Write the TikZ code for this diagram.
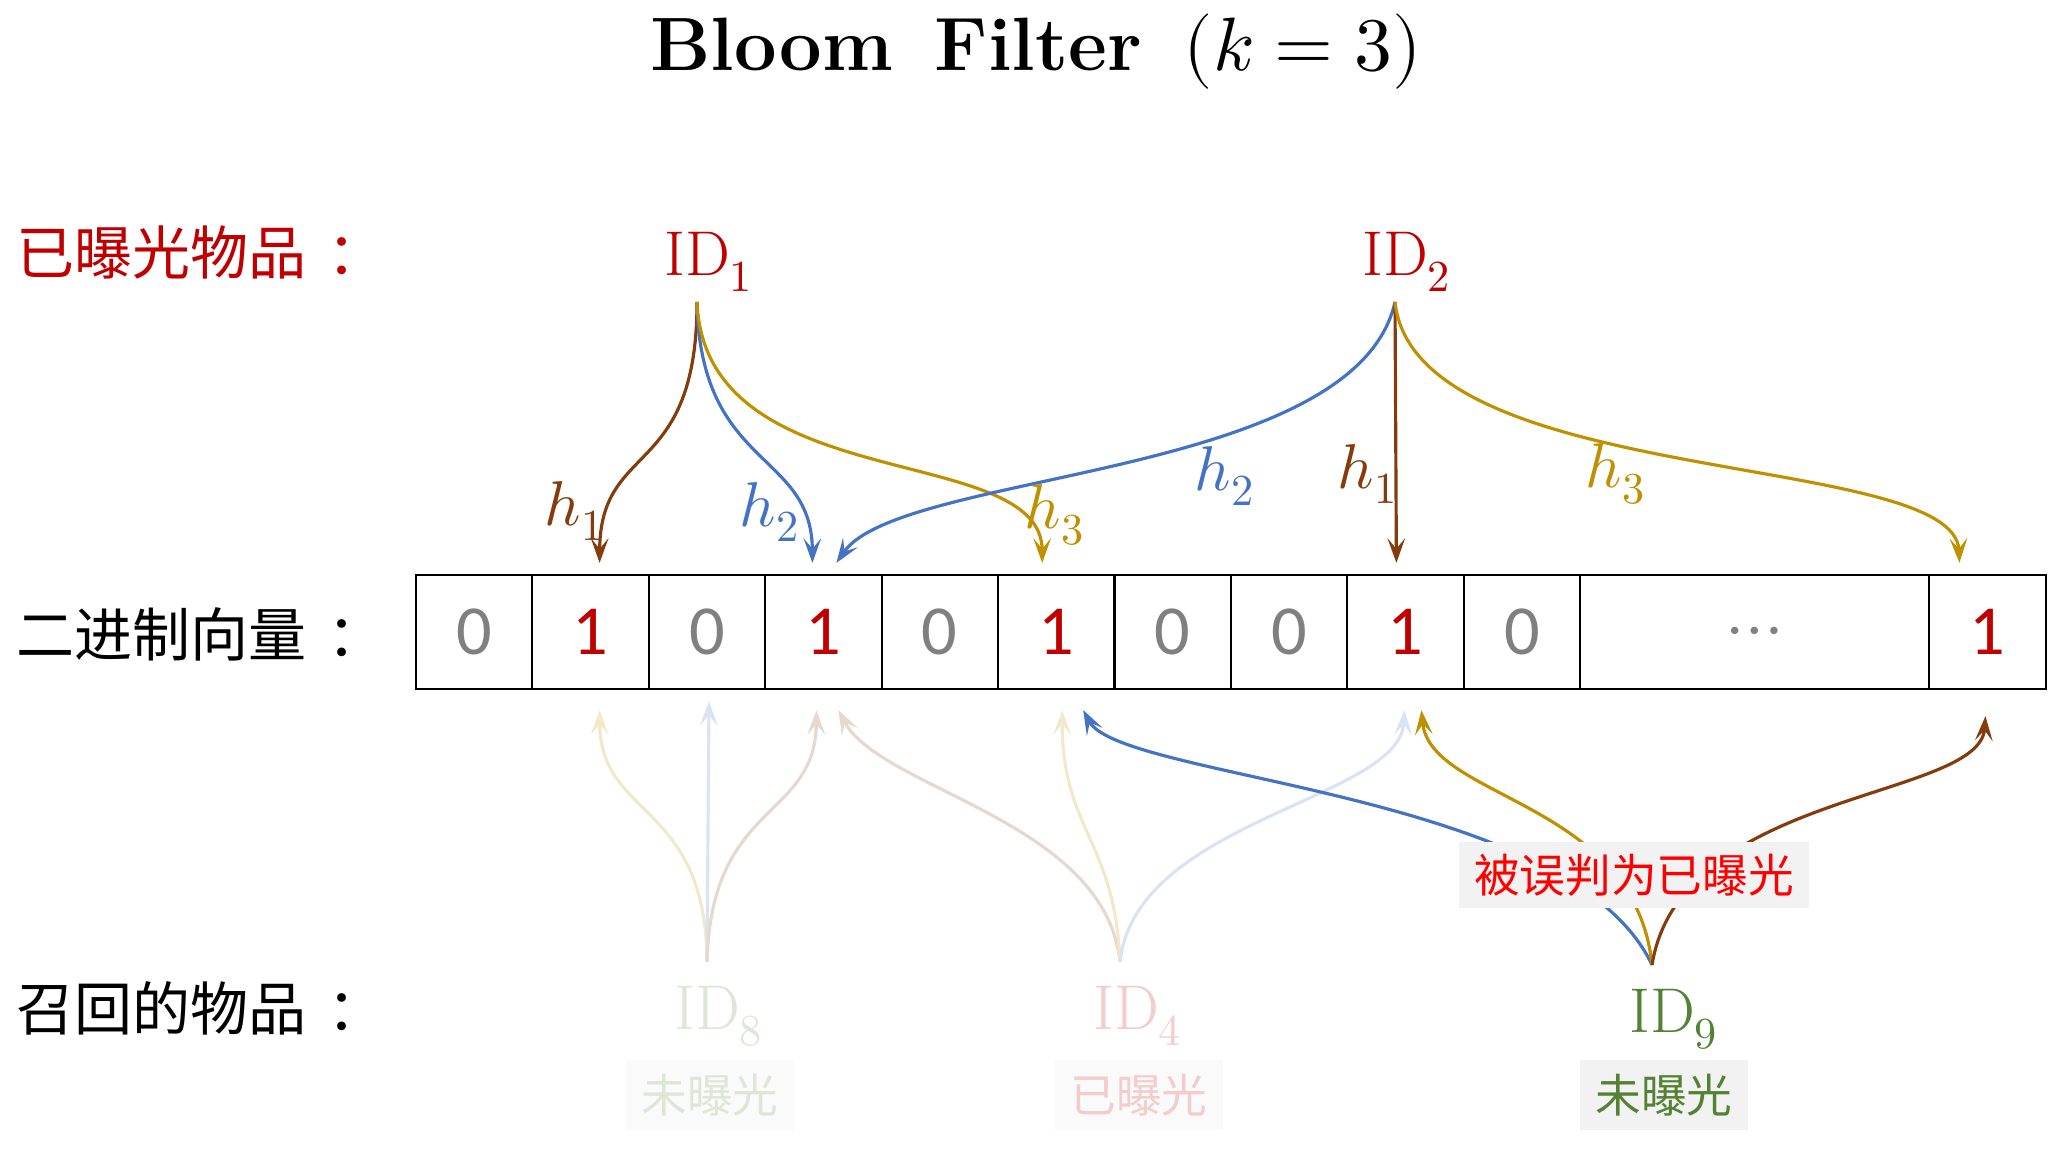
\documentclass[tikz,border=0pt]{standalone}
\usepackage{fontspec}
\usepackage{unicode-math}
\setmathfont{Latin Modern Math}
\newfontfamily\cjk{Noto Sans CJK SC}
\newfontfamily\digitfont{Carlito}
\usetikzlibrary{calc,arrows.meta}
\definecolor{hbrown}{HTML}{843C0C}
\definecolor{hblue}{HTML}{4472C4}
\definecolor{hgold}{HTML}{BF9000}
\definecolor{idred}{HTML}{C00000}
\definecolor{idgreen}{HTML}{548235}
\definecolor{zerogray}{HTML}{808080}
\definecolor{tagfill}{HTML}{F2F2F2}

\begin{document}
\begin{tikzpicture}[x=0.01cm, y=0.01cm,
  cell/.style={draw, line width=0.6pt, minimum width=1.164cm, minimum height=1.14cm, inner sep=0pt, font=\digitfont\fontsize{20}{24}\selectfont},
  bit0/.style={text=zerogray},
  bit1/.style={text=idred},
  idtext/.style={inner sep=0.1cm, font=\fontsize{18}{20}\selectfont},
  hlabel/.style={inner sep=0pt, font=\fontsize{18}{20}\selectfont},
  hash/.style={line width=0.9pt, -{Stealth[length=7pt, width=5pt, inset=3pt]}},
  rowlabel/.style={anchor=west, inner sep=0pt, font=\cjk\fontsize{16.5}{19}\selectfont},
  tag/.style={fill=tagfill, minimum width=1.68cm, minimum height=0.69cm, inner sep=0pt, font=\cjk\fontsize{13}{15}\selectfont}]
\useasboundingbox (0,0) rectangle (2058,1152);

\node (title) at (1036,1100) {\fontsize{21.5}{26}\selectfont\textbf{Bloom\hspace{0.55em}Filter\hspace{0.55em}$(k=3)$}};

\node [rowlabel, text=idred] (row1) at (16,900) {已曝光物品\hspace{0.35em}：};
\node [rowlabel] (row2) at (16,518) {二进制向量\hspace{0.35em}：};
\node [rowlabel] (row3) at (16,144) {召回的物品\hspace{0.35em}：};

\foreach \v [count=\i from 0] in {0,1,0,1,0,1,0,0,1,0}
  \node [cell, bit\v] (c\i) at ({416+116.4*(\i+0.5)},520) {\v};
\node [cell, bit0, minimum width=3.492cm] (c10) at (1754.6,520) {\raisebox{-0.17cm}[0pt][0pt]{$\cdots$}};
\node [cell, bit1] (c11) at (1987.4,520) {1};

\node [idtext, anchor=south, text=idred] (id1) at (697,850) {ID\rlap{$_1$}};
\node [idtext, anchor=south, text=idred] (id2) at (1395,850) {ID\rlap{$_2$}};

\draw [hash, hbrown] (id1.south) .. controls (697,672) and (600,712) .. ($(c1.north)+(9,11)$);
\draw [hash, hblue] (id1.south) .. controls (700,682) and (812,702) .. ($(c3.north)+(-11,11)$);
\draw [hash, hgold] (id1.south) .. controls (705,652) and (1042,712) .. ($(c5.north)+(-14,11)$);
\draw [hash, hblue] (id2.south) .. controls (1355,672) and (900,682) .. ($(c3.north)+(13,11)$);
\draw [hash, hbrown] (id2.south) -- ($(c8.north)+(-9,11)$);
\draw [hash, hgold] (id2.south) .. controls (1415,662) and (1955,702) .. ($(c11.north)+(-28,11)$);

\node [hlabel, text=hbrown] (l11) at (575,641) {$h_1$};
\node [hlabel, text=hblue] (l12) at (770,640) {$h_2$};
\node [hlabel, text=hgold] (l13) at (1055,637) {$h_3$};
\node [hlabel, text=hblue] (l22) at (1225,676) {$h_2$};
\node [hlabel, text=hbrown] (l21) at (1368,678) {$h_1$};
\node [hlabel, text=hgold] (l23) at (1616,678) {$h_3$};

\node [idtext, anchor=north, inner ysep=0.24cm, text=idgreen!20] (id8) at (707,190) {ID\rlap{$_8$}};
\node [idtext, anchor=north, inner ysep=0.24cm, text=idred!20] (id4) at (1126,190) {ID\rlap{$_4$}};
\node [idtext, anchor=north, inner ysep=0.24cm, text=idgreen] (id9) at (1662,187) {ID\rlap{$_9$}};

\draw [hash, hgold!20] (id8.north) .. controls (706,352) and (600,332) .. ($(c1.south)+(9,-20)$);
\draw [hash, hblue!20] (id8.north) -- ($(c2.south)+(2,-11)$);
\draw [hash, hbrown!20] (id8.north) .. controls (711,352) and (816,332) .. ($(c3.south)+(-7,-20)$);
\draw [hash, hbrown!20] ($(id4.north)+(-6,0)$) .. controls (1105,332) and (880,362) .. ($(c3.south)+(15,-20)$);
\draw [hash, hgold!20] ($(id4.north)+(-6,0)$) .. controls (1115,312) and (1062,322) .. ($(c5.south)+(6,-20)$);
\draw [hash, hblue!20] ($(id4.north)+(-6,0)$) .. controls (1135,332) and (1400,352) .. ($(c8.south)+(-1,-20)$);
\draw [hash, hblue] ($(id9.north)+(-10,0)$) .. controls (1570,362) and (1120,372) .. ($(c5.south)+(27,-20)$);
\draw [hash, hgold] ($(id9.north)+(-10,0)$) .. controls (1635,352) and (1430,352) .. ($(c8.south)+(16,-20)$);
\draw [hash, hbrown] ($(id9.north)+(-10,0)$) .. controls (1680,362) and (1980,352) .. ($(c11.south)+(-2,-26)$);

\node [tag, text=red, minimum width=3.49cm, minimum height=0.65cm] (fp) at (1634,277) {被误判为已曝光};

\node [tag, text=idgreen!20, fill=tagfill!40] (tag8) at (710,57) {未曝光};
\node [tag, text=idred!20, fill=tagfill!40] (tag4) at (1139,57) {已曝光};
\node [tag, text=idgreen] (tag9) at (1664,57) {未曝光};

\end{tikzpicture}
\end{document}
